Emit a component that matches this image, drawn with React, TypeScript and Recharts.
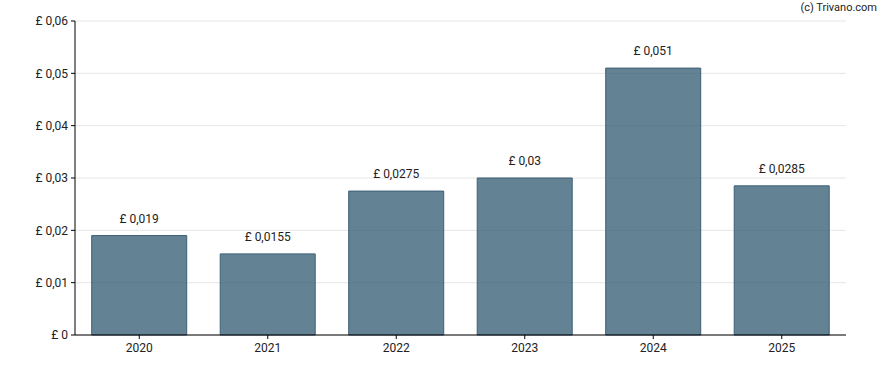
import React from "react";
import { BarChart, Bar, XAxis, YAxis, CartesianGrid, LabelList } from "recharts";

const years = ["2020", "2021", "2022", "2023", "2024", "2025"];
const dividends = [0.019, 0.0155, 0.0275, 0.03, 0.051, 0.0285];
const yTicks = [0, 0.01, 0.02, 0.03, 0.04, 0.05, 0.06];

const data = years.map((year, i) => ({ year, value: dividends[i] }));

const formatGBP = (v: number) => {
  const n = parseFloat(Number(v).toFixed(5));
  return "£ " + String(n).replace(".", ",");
};

const font = "Roboto, sans-serif";

export default function App() {
  return (
    <div style={{ position: "absolute", left: 0, top: 0, width: 888, height: 370, background: "#fff", fontFamily: font }}>
      <div
        style={{
          position: "absolute",
          right: 11,
          top: 1,
          fontSize: 11,
          color: "#222",
          fontFamily: font,
        }}
      >
        (c) Trivano.com
      </div>
      <BarChart
        width={888}
        height={370}
        data={data}
        margin={{ top: 21, right: 42, left: 0, bottom: 5 }}
        barCategoryGap="13%"
      >
        <CartesianGrid horizontal vertical={false} stroke="#e6e6e6" />
        <XAxis
          dataKey="year"
          height={30}
          stroke="#000"
          tickSize={4}
          tickMargin={4}
          tick={{ fill: "#222", fontSize: 12, fontFamily: font }}
        />
        <YAxis
          width={75}
          domain={[0, 0.06]}
          ticks={yTicks}
          tickFormatter={formatGBP}
          stroke="#000"
          tickSize={4}
          tickMargin={3}
          tick={{ fill: "#222", fontSize: 12, fontFamily: font }}
        />
        <Bar
          dataKey="value"
          fill="#2f5870"
          fillOpacity={0.75}
          stroke="#3e5f75"
          strokeWidth={1}
          isAnimationActive={false}
        >
          <LabelList
            dataKey="value"
            position="top"
            offset={13}
            formatter={(v: any) => formatGBP(v)}
            style={{ fill: "#222", fontSize: 12, fontFamily: font }}
          />
        </Bar>
      </BarChart>
    </div>
  );
}
